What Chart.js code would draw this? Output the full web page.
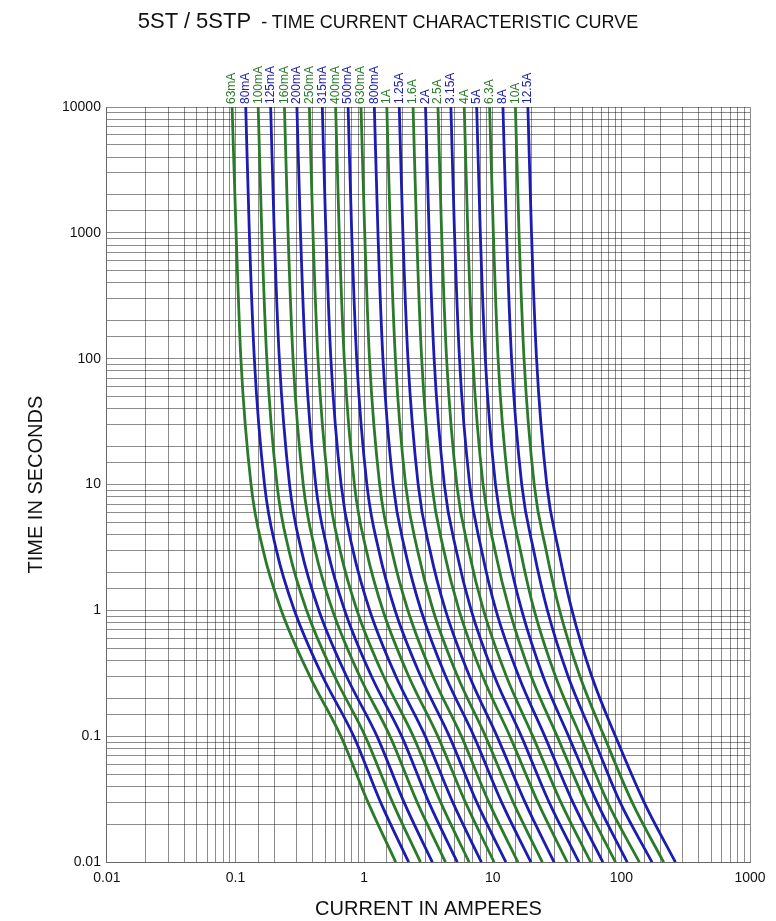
<!DOCTYPE html>
<html>
<head>
<meta charset="utf-8">
<script src="https://cdn.jsdelivr.net/npm/chart.js@4.4.0/dist/chart.umd.min.js"></script>
<style>
  html, body { margin: 0; padding: 0; background: #fff; }
  #wrap { position: relative; width: 776px; height: 921px; }
  #title { position: absolute; top: 8px; left: 0; width: 776px; text-align: center;
           font-family: 'Liberation Sans', Arial, sans-serif; color: #111; white-space: nowrap; }
  #title .big { font-size: 22px; }
  #title .small { font-size: 18px; }
</style>
</head>
<body>
<div id="wrap">
  <div id="title"><span class="big">5ST / 5STP</span><span class="small">&nbsp; - TIME CURRENT CHARACTERISTIC CURVE</span></div>
  <canvas id="chart" width="776" height="921"></canvas>
</div>
<script>
// Fuse ratings (labels at top of each curve)
const ratings = ['63mA', '80mA', '100mA', '125mA', '160mA', '200mA', '250mA', '315mA',
  '400mA', '500mA', '630mA', '800mA', '1A', '1.25A', '1.6A', '2A', '2.5A', '3.15A',
  '4A', '5A', '6.3A', '8A', '10A', '12.5A'];

// Time points (seconds) shared by every curve
const times = [10000, 1000, 100, 10, 3, 1, 0.3, 0.1, 0.03, 0.01];

// Current (A) at the times above
const currents = [
  [0.094, 0.101, 0.110, 0.132, 0.164, 0.227, 0.378, 0.66, 1.07, 1.76],
  [0.12, 0.128, 0.14, 0.168, 0.208, 0.287, 0.475, 0.83, 1.34, 2.22],
  [0.15, 0.16, 0.175, 0.21, 0.26, 0.357, 0.589, 1.02, 1.66, 2.74],
  [0.1875, 0.2, 0.219, 0.263, 0.325, 0.445, 0.729, 1.26, 2.04, 3.39],
  [0.24, 0.256, 0.28, 0.336, 0.416, 0.568, 0.923, 1.59, 2.58, 4.29],
  [0.3, 0.32, 0.35, 0.42, 0.52, 0.706, 1.14, 1.96, 3.18, 5.3],
  [0.375, 0.4, 0.4375, 0.525, 0.65, 0.88, 1.415, 2.41, 3.93, 6.55],
  [0.4725, 0.504, 0.551, 0.662, 0.819, 1.105, 1.764, 2.99, 4.88, 8.16],
  [0.6, 0.64, 0.7, 0.84, 1.04, 1.4, 2.22, 3.74, 6.12, 10.24],
  [0.75, 0.8, 0.875, 1.05, 1.3, 1.74, 2.75, 4.6, 7.5, 12.65],
  [0.945, 1.01, 1.10, 1.32, 1.64, 2.19, 3.42, 5.71, 9.32, 15.7],
  [1.2, 1.28, 1.4, 1.68, 2.08, 2.77, 4.3, 7.14, 11.7, 19.8],
  [1.5, 1.6, 1.75, 2.1, 2.6, 3.44, 5.32, 8.78, 14.4, 24.3],
  [1.875, 2.0, 2.19, 2.63, 3.25, 4.29, 6.59, 10.8, 17.8, 30],
  [2.4, 2.56, 2.8, 3.36, 4.16, 5.47, 8.34, 13.6, 22.4, 37.9],
  [3, 3.2, 3.5, 4.2, 5.2, 6.8, 10.3, 16.7, 27.4, 46.8],
  [3.75, 4, 4.375, 5.25, 6.5, 8.48, 12.75, 20.5, 33.8, 57.8],
  [4.725, 5.04, 5.51, 6.62, 8.19, 10.6, 15.9, 25.4, 41.9, 71.8],
  [6, 6.4, 7, 8.4, 10.4, 13.5, 19.9, 31.7, 52.4, 90],
  [7.5, 8, 8.75, 10.5, 13, 16.8, 24.6, 38.9, 64.5, 111],
  [9.45, 10.1, 11.0, 13.2, 16.4, 21.0, 30.7, 48.1, 78.1, 138],
  [12, 12.8, 14, 16.8, 20.8, 26.6, 38.5, 59.9, 97.6, 173],
  [15, 16, 17.5, 21, 26, 33.1, 47.6, 73.4, 121, 213],
  [18.75, 20, 21.9, 26.3, 32.5, 41.3, 58.8, 90, 150, 263]
];

// Tick labels (decades only)
const xTickLabels = ['0.01', '0.1', '1', '10', '100', '1000'];
const yTickLabels = ['0.01', '0.1', '1', '10', '100', '1000', '10000'];

const GREEN = '#2b7a2b';
const BLUE = '#1c1cb0';
const FONT = "'Liberation Sans', Arial, sans-serif";

function isDecade(v, labels) {
  return labels.indexOf(String(v)) !== -1;
}

// Rotated rating labels above the curve tops
const ratingLabels = {
  id: 'ratingLabels',
  afterDraw(chart) {
    const ctx = chart.ctx;
    const xs = chart.scales.x;
    const top = chart.chartArea.top;
    ctx.save();
    ctx.font = '12px ' + FONT;
    ctx.textAlign = 'left';
    ctx.textBaseline = 'middle';
    chart.data.datasets.forEach((ds, i) => {
      const px = xs.getPixelForValue(ds.data[0].x);
      ctx.save();
      ctx.translate(px, top - 3);
      ctx.rotate(-Math.PI / 2);
      ctx.fillStyle = ds.borderColor;
      ctx.fillText(ratings[i], 0, 0);
      ctx.restore();
    });
    ctx.restore();
  }
};

const datasets = ratings.map((name, i) => ({
  label: name,
  data: times.map((t, j) => ({ x: currents[i][j], y: t })),
  borderColor: i % 2 === 0 ? GREEN : BLUE,
  borderWidth: 2.8,
  pointRadius: 0,
  showLine: true,
  fill: false,
  cubicInterpolationMode: 'monotone'
}));

Chart.defaults.font.family = FONT;
Chart.defaults.color = '#111';

new Chart(document.getElementById('chart'), {
  type: 'scatter',
  data: { datasets },
  plugins: [ratingLabels],
  options: {
    responsive: false,
    animation: false,
    layout: { padding: { top: 107, right: 26, left: 20, bottom: 0 } },
    plugins: { legend: { display: false }, tooltip: { enabled: false } },
    scales: {
      x: {
        type: 'logarithmic',
        min: 0.01,
        max: 1000,
        grid: { color: 'rgba(0,0,0,0.45)', lineWidth: 1, drawTicks: false },
        border: { color: '#666' },
        ticks: {
          autoSkip: false,
          maxRotation: 0,
          padding: 8,
          font: { size: 14 },
          callback: v => isDecade(v, xTickLabels) ? String(v) : ''
        },
        title: { display: true, text: 'CURRENT IN AMPERES', font: { size: 20 }, padding: { top: 2, bottom: 0 } }
      },
      y: {
        type: 'logarithmic',
        min: 0.01,
        max: 10000,
        grid: { color: 'rgba(0,0,0,0.45)', lineWidth: 1, drawTicks: false },
        border: { color: '#666' },
        ticks: {
          autoSkip: false,
          padding: 6,
          font: { size: 14 },
          callback: v => isDecade(v, yTickLabels) ? String(v) : ''
        },
        title: { display: true, text: 'TIME IN SECONDS', font: { size: 20 }, padding: { bottom: 8 } }
      }
    }
  }
});
</script>
</body>
</html>
